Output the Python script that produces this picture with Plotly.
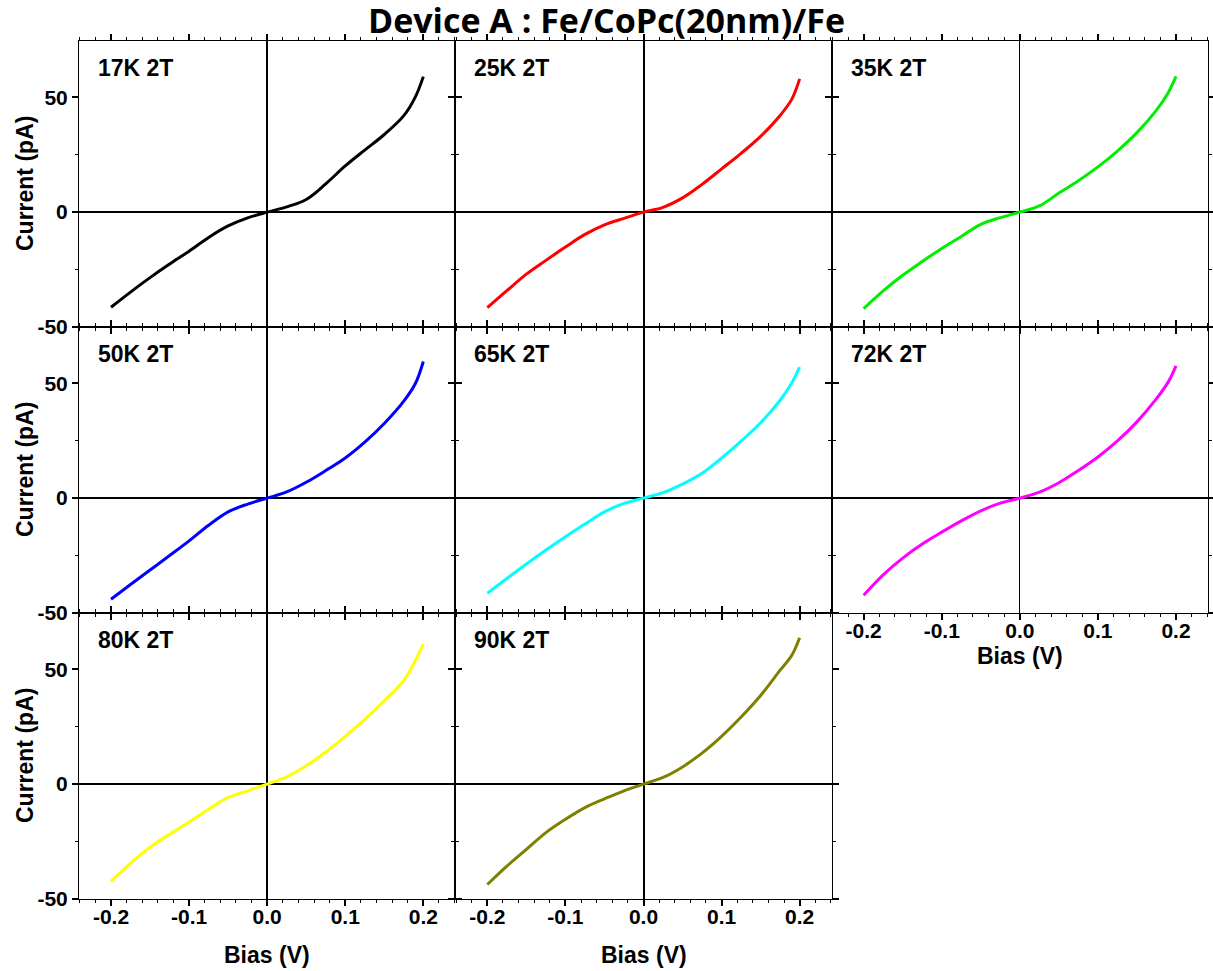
import plotly.graph_objects as go
from plotly.subplots import make_subplots

# bias grid (V) and read-off currents (pA) for each temperature
bias = [-0.2, -0.175, -0.15, -0.125, -0.1, -0.075, -0.05, -0.025, 0.0,
        0.025, 0.05, 0.075, 0.1, 0.125, 0.15, 0.175, 0.19, 0.2]

i_17k = [-41.4, -34.8, -28.5, -22.6, -17.0, -11.0, -6.0, -2.5, 0.0,
         2.3, 5.5, 12.3, 20.1, 27.0, 33.8, 42.0, 50.3, 59.0]
i_25k = [-41.6, -34.2, -27.0, -21.0, -15.2, -9.7, -5.5, -2.7, 0.0,
         2.1, 6.2, 12.1, 18.8, 25.6, 33.0, 42.1, 49.2, 58.0]
i_35k = [-42.0, -34.3, -27.5, -21.5, -15.8, -10.6, -5.3, -2.4, 0.0,
         2.7, 8.3, 13.7, 19.7, 26.6, 34.6, 44.4, 52.0, 59.1]
i_50k = [-44.0, -37.6, -31.3, -25.0, -18.6, -11.8, -6.0, -2.6, 0.0,
         2.7, 6.9, 12.0, 17.5, 24.4, 32.5, 42.2, 50.0, 59.5]
i_65k = [-41.4, -35.0, -28.7, -22.6, -16.8, -11.3, -6.0, -2.3, 0.0,
         2.4, 6.1, 10.8, 17.4, 24.8, 32.8, 42.6, 50.2, 57.0]
i_72k = [-42.3, -33.4, -26.1, -20.0, -14.8, -9.9, -5.5, -2.2, 0.0,
         2.6, 6.7, 12.0, 17.9, 24.9, 33.2, 43.3, 50.5, 57.6]
i_80k = [-42.3, -34.5, -27.5, -21.8, -16.5, -10.9, -5.8, -2.9, 0.0,
         3.2, 8.0, 14.0, 20.8, 28.2, 36.3, 45.2, 53.9, 60.9]
i_90k = [-43.7, -35.7, -28.4, -21.1, -15.3, -10.2, -6.4, -2.9, 0.0,
         2.9, 7.5, 13.5, 20.8, 29.2, 38.6, 49.6, 56.1, 63.7]

labels = ["17K 2T", "25K 2T", "35K 2T", "50K 2T", "65K 2T", "72K 2T", "80K 2T", "90K 2T"]
currents = [i_17k, i_25k, i_35k, i_50k, i_65k, i_72k, i_80k, i_90k]
colors = ["#000000", "#ff0000", "#00ee00", "#0000ff", "#00ffff", "#ff00ff", "#ffff00", "#808000"]

x_ticks = [-0.2, -0.1, 0.0, 0.1, 0.2]
x_ticktext = ["-0.2", "-0.1", "0.0", "0.1", "0.2"]
y_ticks = [-50, 0, 50]
y_ticktext = ["-50", "0", "50"]

fig = make_subplots(rows=3, cols=3, horizontal_spacing=0, vertical_spacing=0,
                    specs=[[{}, {}, {}], [{}, {}, {}], [{}, {}, None]])

fnt = dict(family="Liberation Sans, Arial", size=21, color="black", weight="bold")

for k, (lab, cur, col) in enumerate(zip(labels, currents, colors)):
    r, c = k // 3 + 1, k % 3 + 1
    fig.add_trace(go.Scatter(x=bias, y=cur, mode="lines", line=dict(color=col, width=3, shape="spline"),
                             showlegend=False), row=r, col=c)
    bottom = (r == 3) or (r == 2 and c == 3)
    fig.update_xaxes(range=[-0.241, 0.241], tickvals=x_ticks, ticktext=x_ticktext, automargin=False,
                     showline=True, linecolor="black", linewidth=1, mirror="ticks",
                     ticks="outside", ticklen=6, tickwidth=1.5, tickcolor="black", ticklabelstandoff=-7,
                     minor=dict(dtick=0.02, tick0=0, ticklen=3, tickwidth=1, ticks="outside", tickcolor="black"),
                     zeroline=True, zerolinecolor="black", zerolinewidth=1 if c == 3 else 1.6,
                     showgrid=False, showticklabels=bottom, tickfont=fnt,
                     row=r, col=c)
    fig.update_yaxes(range=[-50, 74.5], tickvals=y_ticks, ticktext=y_ticktext, automargin=False,
                     showline=True, linecolor="black", linewidth=1, mirror="ticks",
                     ticks="outside", ticklen=6, tickwidth=1.5, tickcolor="black",
                     minor=dict(tickvals=[-25, 25], ticklen=3, tickwidth=1, ticks="outside", tickcolor="black"),
                     zeroline=True, zerolinecolor="black", zerolinewidth=1.6,
                     showgrid=False, showticklabels=(c == 1), tickfont=fnt,
                     row=r, col=c)
    xs = "x" if k == 0 else "x%d" % (k + 1)
    ys = "y" if k == 0 else "y%d" % (k + 1)
    fig.add_annotation(text=lab, xref=xs + " domain", yref=ys + " domain", x=0.045, y=0.905,
                       xanchor="left", yanchor="middle", showarrow=False, font=dict(fnt, size=23))
    if c == 1:
        fig.add_annotation(text="Current (pA)", textangle=-90, xref="paper", yref=ys + " domain",
                           x=-0.0478, y=0.5, xanchor="center", yanchor="middle", showarrow=False,
                           font=dict(fnt, size=23))
    if bottom:
        fig.add_annotation(text="Bias (V)", xref=xs + " domain", yref="paper",
                           x=0.5, y=-0.0653 if r == 3 else 0.2832, xanchor="center", yanchor="middle",
                           showarrow=False, font=dict(fnt, size=23))

fig.update_layout(
    width=1213, height=971,
    margin=dict(l=79, r=5, t=41, b=72),
    paper_bgcolor="white", plot_bgcolor="white",
    title=dict(text="Device A : Fe/CoPc(20nm)/Fe", x=0.5, xanchor="center", y=0.978, yanchor="middle",
               font=dict(family="Open Sans, Noto Sans", size=34, color="black", weight="bold")),
)

fig.write_html("out.html", config={"displayModeBar": False},
               post_script="document.body.style.margin='0';")
